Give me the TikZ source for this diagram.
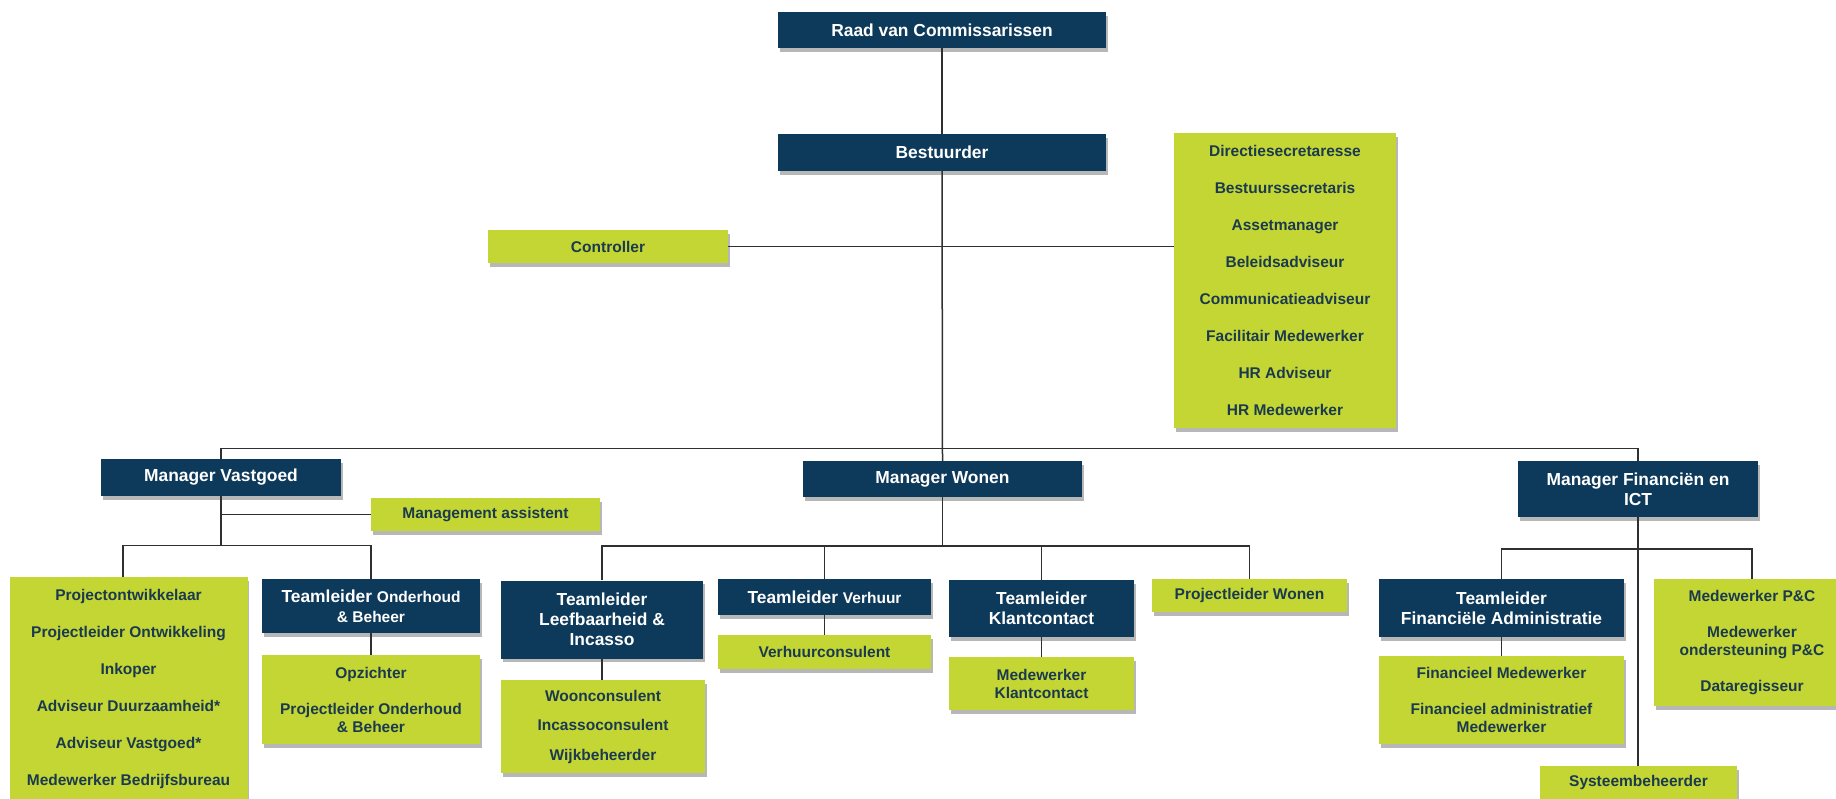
\documentclass[tikz,border=0pt]{standalone}
\usepackage{fontspec}
\setmainfont{Liberation Sans}
\usetikzlibrary{shadows,calc}
\definecolor{navy}{HTML}{0D395A}
\definecolor{lime}{HTML}{C3D634}
\definecolor{darktxt}{HTML}{1B3A4F}
\definecolor{linec}{HTML}{303030}
\newcommand\smallpart{\fontsize{15.5}{18}\selectfont}
\tikzset{
  boxshadow/.style={drop shadow={shadow xshift=1.5pt, shadow yshift=-3.5pt, opacity=0.4, fill=black!70}},
  navybox/.style={rectangle, fill=navy, text=white, inner sep=0pt, align=center,
    font=\bfseries\fontsize{17.4}{20}\selectfont, boxshadow},
  greenbox/.style={rectangle, fill=lime, text=darktxt, inner sep=0pt, align=center,
    font=\bfseries\fontsize{15.5}{18}\selectfont, boxshadow},
  conn/.style={draw=linec, line width=1.5pt},
}
\begin{document}
\begin{tikzpicture}[x=1pt,y=-1pt]
\useasboundingbox[fill=white] (0,0) rectangle (1836,798);

% top level
\node[navybox, minimum width=328pt, minimum height=36pt] (raad) at (942,30) {Raad van Commissarissen};
\node[navybox, minimum width=328pt, minimum height=37pt] (best) at (942,152.5) {Bestuurder};
\node[greenbox, minimum width=240pt, minimum height=33pt] (ctrl) at (608,246.5) {Controller};
\node[greenbox, minimum width=222pt, minimum height=295pt] (staff) at (1285,280.5)
  {Directiesecretaresse\\[19pt]Bestuurssecretaris\\[19pt]Assetmanager\\[19pt]Beleidsadviseur\\[19pt]Communicatieadviseur\\[19pt]Facilitair Medewerker\\[19pt]HR Adviseur\\[19pt]HR Medewerker};

% managers
\node[navybox, minimum width=240pt, minimum height=37pt] (mvast) at (221,477.5) {Manager Vastgoed};
\node[navybox, minimum width=279pt, minimum height=36pt] (mwonen) at (942.5,479) {Manager Wonen};
\node[navybox, minimum width=240pt, minimum height=56pt] (mfin) at (1638,489) {Manager Financiën en\\ICT};

% Vastgoed
\node[greenbox, minimum width=229pt, minimum height=33pt] (massist) at (485.5,514.5) {Management assistent};
\node[greenbox, minimum width=238pt, minimum height=223pt] (projv) at (128.5,688.5)
  {Projectontwikkelaar\\[19pt]Projectleider Ontwikkeling\\[19pt]Inkoper\\[19pt]Adviseur Duurzaamheid*\\[19pt]Adviseur Vastgoed*\\[19pt]Medewerker Bedrijfsbureau};
\node[navybox, minimum width=218pt, minimum height=54pt] (tob) at (371,606) {Teamleider {\smallpart Onderhoud}\\{\smallpart \& Beheer}};
\node[greenbox, minimum width=218pt, minimum height=89pt] (opz) at (371,699.5) {Opzichter\\[18pt]Projectleider Onderhoud\\\& Beheer};

% Wonen
\node[navybox, minimum width=202pt, minimum height=78pt] (tlb) at (602,619.5) {Teamleider\\Leefbaarheid \&\\Incasso};
\node[greenbox, minimum width=204pt, minimum height=93pt] (woon) at (603,726.5) {Woonconsulent\\[11.5pt]Incassoconsulent\\[11.5pt]Wijkbeheerder};
\node[navybox, minimum width=213pt, minimum height=36pt] (tver) at (824.5,597) {Teamleider {\smallpart Verhuur}};
\node[greenbox, minimum width=213pt, minimum height=34pt] (verh) at (824.5,652) {Verhuurconsulent};
\node[navybox, minimum width=185pt, minimum height=57pt] (tkc) at (1041.5,608.5) {Teamleider\\Klantcontact};
\node[greenbox, minimum width=185pt, minimum height=53pt] (mkc) at (1041.5,683.5) {Medewerker\\Klantcontact};
\node[greenbox, minimum width=195pt, minimum height=33pt] (pw) at (1249.5,595.5) {Projectleider Wonen};

% Financien
\node[navybox, minimum width=245pt, minimum height=58pt] (tfa) at (1501.5,608) {Teamleider\\Financiële Administratie};
\node[greenbox, minimum width=245pt, minimum height=88pt] (finmw) at (1501.5,700) {Financieel Medewerker\\[18pt]Financieel administratief\\Medewerker};
\node[greenbox, minimum width=196pt, minimum height=127pt] (pc) at (1752,642.5) {Medewerker P\&C\\[18pt]Medewerker\\ondersteuning P\&C\\[18pt]Dataregisseur};
\node[greenbox, minimum width=197pt, minimum height=33pt] (sys) at (1638.5,782.5) {Systeembeheerder};

% bus coordinates
\coordinate (mainbus) at (0,448.3);
\coordinate (vbus) at (0,545.3);
\coordinate (wbus) at (0,546);
\coordinate (fbus) at (0,549);

% connectors
\draw[conn] (raad.south) -- (best.north);
\draw[conn] (best.south) -- (mwonen.north);
\draw[conn] (ctrl.east) -- (ctrl.east -| staff.west);
\draw[conn] (mvast.north) -- (mvast.north |- mainbus) -- (mfin.north |- mainbus) -- (mfin.north);

\draw[conn] (mvast.south) -- (mvast.south |- vbus);
\draw[conn] (mvast.south |- massist.west) -- (massist.west);
\draw[conn] (123,577) -- (123,545.3) -| (tob.north);
\draw[conn] (tob.south) -- (opz.north);

\draw[conn] (mwonen.south) -- (mwonen.south |- wbus);
\draw[conn] (tlb.north) -- (tlb.north |- wbus) -- (pw.north |- wbus) -- (pw.north);
\draw[conn] (tver.north) -- (tver.north |- wbus);
\draw[conn] (tkc.north) -- (tkc.north |- wbus);
\draw[conn] (tlb.south) -- (woon.north -| tlb.south);
\draw[conn] (tver.south) -- (verh.north);
\draw[conn] (tkc.south) -- (mkc.north);

\draw[conn] (mfin.south) -- (sys.north -| mfin.south);
\draw[conn] (tfa.north) -- (tfa.north |- fbus) -- (pc.north |- fbus) -- (pc.north);
\draw[conn] (tfa.south) -- (finmw.north);
\end{tikzpicture}
\end{document}
